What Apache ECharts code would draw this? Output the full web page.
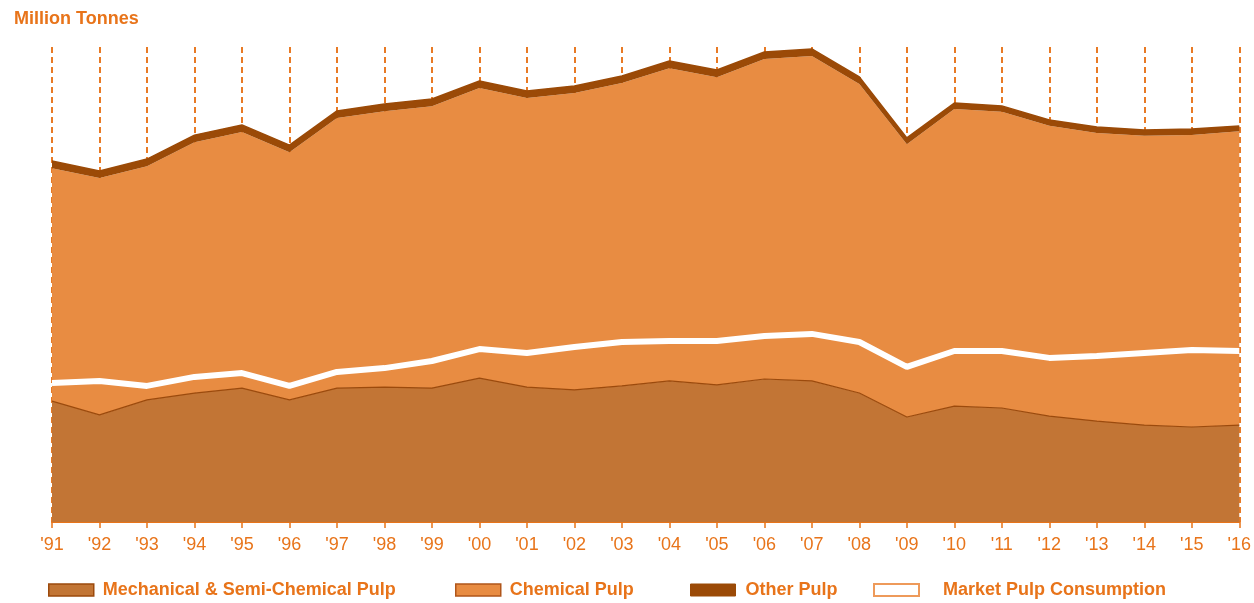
<!DOCTYPE html>
<html>
<head>
<meta charset="utf-8">
<script src="https://cdn.jsdelivr.net/npm/echarts@6/dist/echarts.min.js"></script>
<style>
  html, body { margin: 0; padding: 0; background: #fff; }
  #chart { width: 1254px; height: 603px; }
</style>
</head>
<body>
<div id="chart"></div>
<script>
// years along the x axis
var years = ["'91", "'92", "'93", "'94", "'95", "'96", "'97", "'98", "'99", "'00", "'01", "'02", "'03",
  "'04", "'05", "'06", "'07", "'08", "'09", "'10", "'11", "'12", "'13", "'14", "'15", "'16"];

// million tonnes
var mechanical = [50.9, 45.1, 51.4, 54.3, 56.4, 51.4, 56.4, 56.8, 56.4, 60.6, 56.8, 55.6, 57.3,
  59.4, 57.7, 60.2, 59.4, 54.3, 44.2, 48.8, 48.0, 44.6, 42.5, 40.8, 40.0, 40.8];
var chemical = [98.1, 99.7, 98.4, 105.6, 107.8, 104.3, 113.7, 116.2, 118.7, 122.1, 121.7, 125.0, 127.5,
  131.7, 129.6, 134.7, 136.8, 130.1, 114.9, 125.1, 124.7, 122.2, 121.3, 121.8, 123.0, 123.7];
var other = [3.0, 3.0, 3.0, 3.0, 3.0, 3.0, 3.0, 3.0, 3.0, 3.0, 3.0, 3.0, 3.0,
  3.0, 3.0, 3.0, 3.0, 3.0, 2.6, 2.5, 2.5, 2.5, 2.5, 2.5, 2.5, 2.2];
var marketPulp = [58.5, 59.4, 57.3, 61.1, 62.7, 57.3, 63.2, 64.8, 67.8, 72.8, 71.2, 73.7, 75.8,
  76.2, 76.2, 78.3, 79.2, 75.8, 65.3, 72.0, 72.0, 69.1, 69.9, 71.2, 72.4, 72.0];

var orangeText = '#E8741A';
var font = 'Liberation Sans, Arial, sans-serif';
var legendText = { color: orangeText, fontSize: 18, fontWeight: 'bold', fontFamily: font };

var chart = echarts.init(document.getElementById('chart'));

function legendAt(x, name, style, gap) {
  return {
    left: x, top: 581, padding: 0, itemWidth: 45, itemHeight: 12, itemGap: 0,
    selectedMode: false,
    textStyle: Object.assign({ padding: [0, 0, 0, gap] }, legendText),
    data: [{ name: name, icon: 'rect', itemStyle: style }]
  };
}

chart.setOption({
  animation: false,
  title: {
    text: 'Million Tonnes', left: 9, top: 5,
    textStyle: { color: orangeText, fontSize: 18, fontWeight: 'bold', fontFamily: font }
  },
  legend: [
    legendAt(48, 'Mechanical & Semi-Chemical Pulp', { color: '#C27535', borderColor: '#9C4A0C', borderWidth: 1.5 }, 4),
    legendAt(455, 'Chemical Pulp', { color: '#E88C42', borderColor: '#B0561A', borderWidth: 1.5 }, 4),
    legendAt(690, 'Other Pulp', { color: '#9B4A07', borderColor: '#9B4A07', borderWidth: 1 }, 5),
    legendAt(873, 'Market Pulp Consumption', { color: '#fff', borderColor: '#EE9A5A', borderWidth: 2 }, 19)
  ],
  grid: { left: 52, right: 12, top: 47, bottom: 81 },
  xAxis: {
    type: 'category', data: years, boundaryGap: false,
    axisLine: { lineStyle: { color: '#E8741A', width: 2 } },
    axisTick: { alignWithLabel: true, length: 6, lineStyle: { color: '#E8741A', width: 1.5 } },
    axisLabel: { color: orangeText, fontSize: 18, margin: 14, fontFamily: font },
    splitLine: { show: true, lineStyle: { color: '#E87A25', width: 2, type: [6, 4] } }
  },
  yAxis: {
    type: 'value', min: 0, max: 200,
    axisLabel: { show: false }, axisTick: { show: false }, splitLine: { show: false }, axisLine: { show: false }
  },
  series: [
    {
      name: 'Mechanical & Semi-Chemical Pulp', type: 'line', stack: 'pulp', data: mechanical,
      symbol: 'none', z: 3,
      lineStyle: { color: '#9C4A0C', width: 1.2 },
      itemStyle: { color: '#C27535' },
      areaStyle: { color: '#C27535', opacity: 1 }
    },
    {
      name: 'Chemical Pulp', type: 'line', stack: 'pulp', data: chemical,
      symbol: 'none', z: 2,
      lineStyle: { width: 0 },
      itemStyle: { color: '#E88C42' },
      areaStyle: { color: '#E88C42', opacity: 1 }
    },
    {
      name: 'Other Pulp', type: 'line', stack: 'pulp', data: other,
      symbol: 'none', z: 2,
      lineStyle: { color: '#9B4A07', width: 1.5 },
      itemStyle: { color: '#9B4A07' },
      areaStyle: { color: '#9B4A07', opacity: 1 }
    },
    {
      name: 'Market Pulp Consumption', type: 'line', data: marketPulp,
      symbol: 'none', z: 4,
      lineStyle: { color: '#ffffff', width: 6 },
      itemStyle: { color: '#ffffff' }
    }
  ]
});
</script>
</body>
</html>
